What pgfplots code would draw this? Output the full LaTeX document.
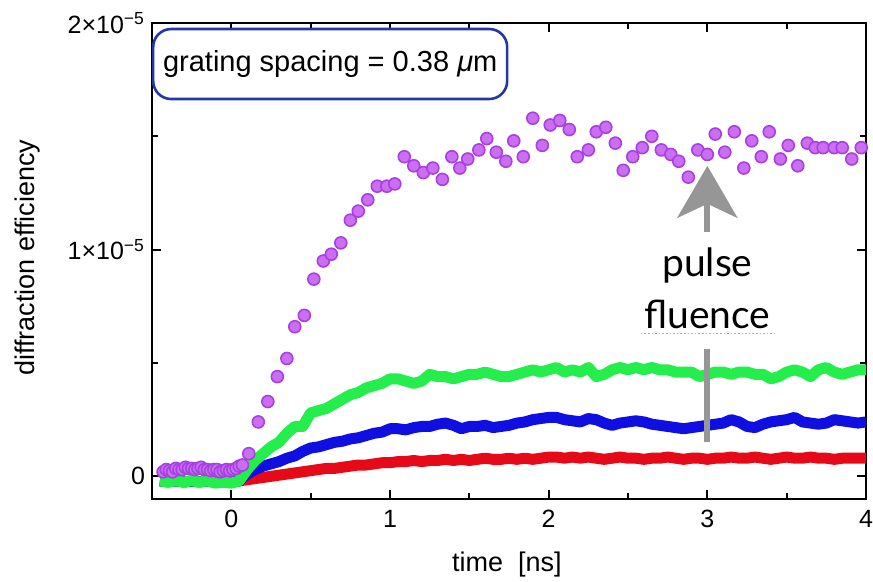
\documentclass[border=0pt]{standalone}
\usepackage{pgfplots}
\pgfplotsset{compat=1.18}
\usepackage{fontspec}
\setmainfont{Liberation Sans}
\newfontfamily\latofont{Lato}
\usetikzlibrary{arrows.meta}
\definecolor{magfill}{RGB}{205,110,242}
\definecolor{magdraw}{RGB}{165,65,225}
\definecolor{lgreen}{RGB}{35,238,75}
\definecolor{lblue}{RGB}{15,15,225}
\definecolor{lred}{RGB}{230,10,25}
\definecolor{boxblue}{RGB}{35,55,170}
\definecolor{arrgray}{RGB}{150,150,150}
\begin{document}
\begin{tikzpicture}
\begin{axis}[
  name=ax,
  scale only axis,
  width=357pt, height=238pt,
  xmin=-0.5, xmax=4, ymin=-0.1, ymax=2,
  enlargelimits=false,
  axis line style={line width=1pt},
  tick style={black, line width=0.9pt},
  major tick length=4.5pt, minor tick length=3pt,
  xtick={0,1,2,3,4}, xticklabels={0,1,2,3,4},
  minor x tick num=1,
  ytick={0,1,2}, yticklabels={0,1×10\textsuperscript{−5},2×10\textsuperscript{−5}},
  minor y tick num=1,
  tick label style={font=\fontsize{12.5}{14}\selectfont},
  xticklabel style={yshift=-2pt},
  xlabel={time\ \ [ns]},
  ylabel={diffraction efficiency},
  label style={font=\fontsize{13.5}{16}\selectfont},
  xlabel style={at={(axis description cs:0.497,-0.137)}, anchor=center},
  ylabel style={at={(axis description cs:-0.1737,0.507)}, anchor=center, rotate=0},
]
% red
\addplot[lred, line width=5.5pt, line join=round] coordinates {
(-0.45,-0.02)(-0.40,-0.022)(-0.35,-0.02)(-0.30,-0.024)(-0.25,-0.02)(-0.20,-0.023)(-0.15,-0.02)(-0.10,-0.025)(-0.05,-0.022)(0.00,-0.025)(0.05,-0.02)
(0.10,-0.015)(0.15,-0.01)(0.20,-0.005)(0.25,0.0)(0.30,0.005)(0.35,0.01)(0.40,0.015)(0.45,0.02)(0.50,0.025)(0.55,0.03)(0.60,0.035)(0.65,0.035)(0.70,0.04)(0.75,0.045)(0.80,0.05)(0.85,0.05)(0.90,0.055)(0.95,0.06)(1.00,0.06)
(1.05,0.065)(1.10,0.065)(1.15,0.07)(1.20,0.065)(1.25,0.07)(1.30,0.07)(1.35,0.075)(1.40,0.07)(1.45,0.075)(1.50,0.07)(1.55,0.075)(1.60,0.08)(1.65,0.075)(1.70,0.075)(1.75,0.08)(1.80,0.075)(1.85,0.08)(1.90,0.075)(1.95,0.08)(2.00,0.085)
(2.05,0.085)(2.10,0.08)(2.15,0.085)(2.20,0.08)(2.25,0.085)(2.30,0.08)(2.35,0.075)(2.40,0.08)(2.45,0.085)(2.50,0.08)(2.55,0.08)(2.60,0.075)(2.65,0.08)(2.70,0.08)(2.75,0.085)(2.80,0.08)(2.85,0.075)(2.90,0.08)(2.95,0.08)(3.00,0.075)
(3.05,0.08)(3.10,0.08)(3.15,0.085)(3.20,0.08)(3.25,0.08)(3.30,0.085)(3.35,0.08)(3.40,0.075)(3.45,0.08)(3.50,0.085)(3.55,0.08)(3.60,0.08)(3.65,0.085)(3.70,0.08)(3.75,0.08)(3.80,0.075)(3.85,0.08)(3.90,0.08)(3.95,0.08)(4.00,0.08)
};
% blue
\addplot[lblue, line width=5.5pt, line join=round] coordinates {
(-0.45,-0.02)(-0.40,-0.025)(-0.35,-0.02)(-0.30,-0.025)(-0.25,-0.022)(-0.20,-0.025)(-0.15,-0.02)(-0.10,-0.027)(-0.05,-0.024)(0.00,-0.027)(0.05,-0.02)
(0.10,0.01)(0.15,0.03)(0.20,0.045)(0.25,0.055)(0.30,0.065)(0.35,0.08)(0.40,0.09)(0.45,0.11)(0.50,0.125)(0.55,0.13)(0.60,0.14)(0.65,0.15)(0.70,0.155)(0.75,0.165)(0.80,0.17)(0.85,0.18)(0.90,0.19)(0.95,0.195)(1.00,0.21)
(1.05,0.21)(1.10,0.205)(1.15,0.215)(1.20,0.22)(1.25,0.22)(1.30,0.23)(1.35,0.235)(1.40,0.225)(1.45,0.21)(1.50,0.22)(1.55,0.22)(1.60,0.225)(1.65,0.215)(1.70,0.22)(1.75,0.225)(1.80,0.235)(1.85,0.24)(1.90,0.25)(1.95,0.255)(2.00,0.26)
(2.05,0.26)(2.10,0.25)(2.15,0.245)(2.20,0.24)(2.25,0.255)(2.30,0.25)(2.35,0.235)(2.40,0.225)(2.45,0.235)(2.50,0.24)(2.55,0.245)(2.60,0.24)(2.65,0.23)(2.70,0.225)(2.75,0.22)(2.80,0.215)(2.85,0.21)(2.90,0.215)(2.95,0.22)(3.00,0.225)
(3.05,0.23)(3.10,0.235)(3.15,0.25)(3.20,0.24)(3.25,0.22)(3.30,0.215)(3.35,0.23)(3.40,0.24)(3.45,0.245)(3.50,0.25)(3.55,0.26)(3.60,0.24)(3.65,0.235)(3.70,0.23)(3.75,0.235)(3.80,0.25)(3.85,0.245)(3.90,0.24)(3.95,0.235)(4.00,0.24)
};
% green
\addplot[lgreen, line width=5.5pt, line join=round] coordinates {
(-0.45,-0.02)(-0.40,-0.025)(-0.35,-0.02)(-0.30,-0.025)(-0.25,-0.02)(-0.20,-0.025)(-0.15,-0.02)(-0.10,-0.03)(-0.05,-0.025)(0.00,-0.03)(0.05,-0.02)
(0.10,0.03)(0.15,0.07)(0.20,0.10)(0.25,0.13)(0.30,0.15)(0.35,0.19)(0.40,0.22)(0.45,0.22)(0.50,0.28)(0.55,0.29)(0.60,0.30)(0.65,0.32)(0.70,0.34)(0.75,0.36)(0.80,0.37)(0.85,0.39)(0.90,0.40)(0.95,0.41)(1.00,0.43)
(1.05,0.43)(1.10,0.42)(1.15,0.41)(1.20,0.42)(1.25,0.45)(1.30,0.44)(1.35,0.44)(1.40,0.43)(1.45,0.44)(1.50,0.45)(1.55,0.45)(1.60,0.46)(1.65,0.45)(1.70,0.44)(1.75,0.44)(1.80,0.45)(1.85,0.46)(1.90,0.47)(1.95,0.46)(2.00,0.47)
(2.05,0.48)(2.10,0.46)(2.15,0.47)(2.20,0.46)(2.25,0.48)(2.30,0.44)(2.35,0.45)(2.40,0.47)(2.45,0.48)(2.50,0.47)(2.55,0.48)(2.60,0.47)(2.65,0.48)(2.70,0.47)(2.75,0.47)(2.80,0.46)(2.85,0.46)(2.90,0.46)(2.95,0.44)(3.00,0.45)
(3.05,0.46)(3.10,0.46)(3.15,0.45)(3.20,0.46)(3.25,0.46)(3.30,0.45)(3.35,0.45)(3.40,0.43)(3.45,0.44)(3.50,0.46)(3.55,0.47)(3.60,0.46)(3.65,0.44)(3.70,0.47)(3.75,0.48)(3.80,0.46)(3.85,0.45)(3.90,0.46)(3.95,0.47)(4.00,0.47)
};
% magenta points
\addplot[only marks, mark=*, mark size=3pt, mark options={fill=magfill, draw=magdraw, line width=0.8pt}] coordinates {
(-0.43,0.02)(-0.41,0.03)(-0.39,0.025)(-0.37,0.02)(-0.35,0.035)(-0.33,0.03)(-0.31,0.03)(-0.29,0.04)(-0.27,0.035)(-0.25,0.035)(-0.23,0.03)(-0.21,0.035)(-0.19,0.04)(-0.17,0.03)(-0.15,0.03)(-0.13,0.025)(-0.11,0.03)(-0.09,0.03)(-0.07,0.02)(-0.05,0.025)(-0.03,0.03)(-0.01,0.025)(0.01,0.03)(0.03,0.035)(0.05,0.045)(0.07,0.05)
(0.11,0.10)(0.17,0.24)(0.23,0.33)(0.29,0.44)(0.35,0.52)(0.40,0.66)(0.46,0.71)(0.52,0.87)(0.58,0.95)(0.63,0.98)(0.69,1.03)(0.75,1.13)(0.80,1.17)(0.86,1.22)(0.92,1.28)(0.98,1.28)(1.03,1.29)
(1.09,1.41)(1.15,1.37)(1.21,1.34)(1.27,1.36)(1.33,1.31)(1.39,1.41)(1.44,1.36)(1.49,1.40)(1.56,1.44)(1.61,1.49)(1.67,1.43)(1.73,1.39)(1.78,1.48)(1.84,1.41)(1.90,1.58)(1.96,1.46)
(2.01,1.55)(2.07,1.57)(2.13,1.53)(2.18,1.41)(2.25,1.44)(2.30,1.52)(2.36,1.54)(2.42,1.47)(2.47,1.35)(2.53,1.41)(2.59,1.45)(2.65,1.50)(2.71,1.44)(2.77,1.42)(2.82,1.39)(2.88,1.32)(2.94,1.44)
(3.00,1.42)(3.05,1.51)(3.11,1.43)(3.17,1.52)(3.23,1.36)(3.28,1.48)(3.34,1.41)(3.39,1.52)(3.46,1.40)(3.51,1.46)(3.57,1.37)(3.63,1.47)(3.68,1.45)(3.73,1.45)(3.80,1.45)(3.85,1.45)(3.91,1.40)(3.97,1.45)
};
% annotation
\draw[arrgray, line width=3pt] (axis cs:3.0,0.15) -- (axis cs:3.0,0.56);
\draw[arrgray, line width=3pt, -{Stealth[length=26pt, width=30pt, inset=7pt]}] (axis cs:3.0,1.08) -- (axis cs:3.0,1.37);
\node[font=\latofont\fontsize{19.5}{22}\selectfont, anchor=base] at (axis cs:3.0,0.88) {pulse};
\node[font=\latofont\fontsize{19.5}{22}\selectfont, anchor=base] at (axis cs:3.0,0.65) {fluence};
\draw[red!45, densely dotted, line width=0.8pt] (axis cs:2.58,0.63) -- (axis cs:3.42,0.63);
\node[draw=boxblue, line width=1.3pt, rounded corners=9pt, fill=white, minimum width=177pt, minimum height=35pt, font=\fontsize{14.5}{17}\selectfont] at (axis cs:0.623,1.819) {grating spacing = 0.38 \textit{μ}m};
\end{axis}
\pgfresetboundingbox
\path ([xshift=-76pt,yshift=-41pt]ax.south west) rectangle ([xshift=3.5pt,yshift=11.5pt]ax.north east);
\end{tikzpicture}
\end{document}
